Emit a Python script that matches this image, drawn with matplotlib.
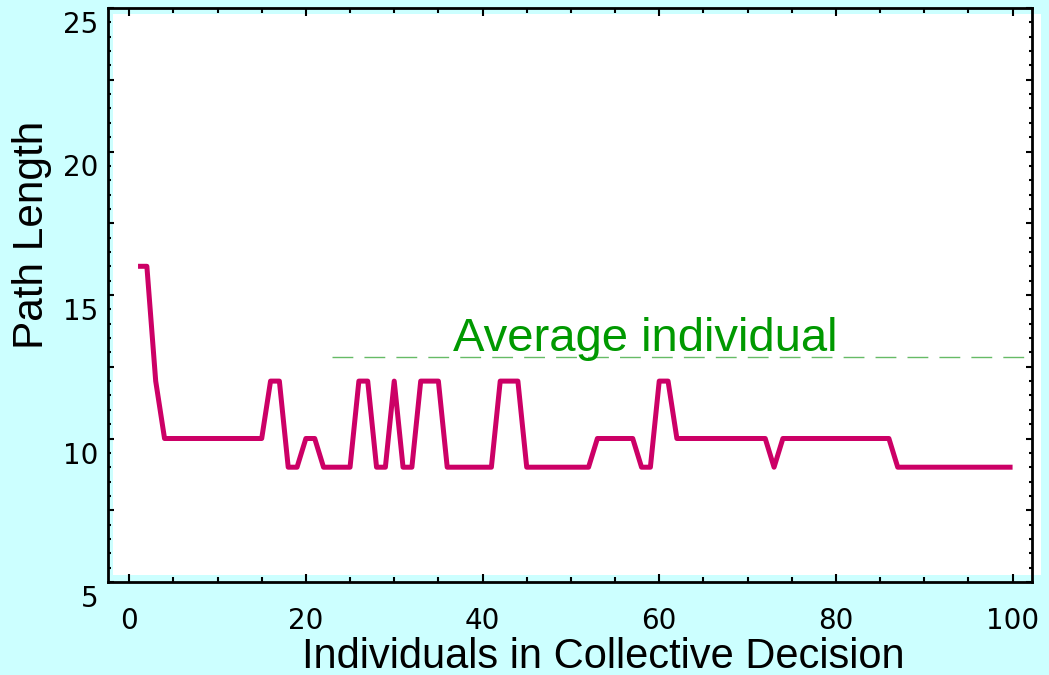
import matplotlib
matplotlib.use("Agg")
import matplotlib.pyplot as plt
import matplotlib.transforms as mtransforms
from matplotlib.patches import Rectangle
from matplotlib.ticker import MultipleLocator, FuncFormatter

# Path length of the collective decision, for 1..100 individuals
individuals = list(range(1, 101))
path_length = [
    16, 16, 12, 10, 10, 10, 10, 10, 10, 10,
    10, 10, 10, 10, 10, 12, 12, 9, 9, 10,
    10, 9, 9, 9, 9, 12, 12, 9, 9, 12,
    9, 9, 12, 12, 12, 9, 9, 9, 9, 9,
    9, 12, 12, 12, 9, 9, 9, 9, 9, 9,
    9, 9, 10, 10, 10, 10, 10, 9, 9, 12,
    12, 10, 10, 10, 10, 10, 10, 10, 10, 10,
    10, 10, 9, 10, 10, 10, 10, 10, 10, 10,
    10, 10, 10, 10, 10, 10, 9, 9, 9, 9,
    9, 9, 9, 9, 9, 9, 9, 9, 9, 9,
]
average_individual = 12.85
average_start = 23
average_label = "Average individual"

x_ticks = [0, 20, 40, 60, 80, 100]
y_ticks = [5, 10, 15, 20, 25]

label_font = "Liberation Sans"

fig = plt.figure(figsize=(10.49, 6.75), dpi=100, facecolor="#ccffff")
W, H = 1049, 675

# white plotting area, slightly offset from the frame like the original
fig.patches.append(Rectangle((113 / W, 1 - 575 / H), (1041 - 113) / W, (575 - 14) / H,
                             transform=fig.transFigure, facecolor="white",
                             edgecolor="none", zorder=0))

ax = fig.add_axes([108 / W, 1 - 582 / H, (1032 - 108) / W, (582 - 8) / H])
ax.patch.set_alpha(0)
ax.set_zorder(1)

ax.plot(individuals, path_length, color="#cc0066", linewidth=3.6,
        solid_joinstyle="round", solid_capstyle="butt", zorder=3)

ax.plot([average_start, 110], [average_individual, average_individual],
        color="#66bb66", linewidth=1.0, dashes=(15, 8), zorder=2)
ax.text(58.4, 13.05, average_label, color="#009900", fontsize=34,
        family=label_font, ha="center", va="baseline")

ax.set_xlim(-2.4, 102.2)
ax.set_ylim(5, 25)

for s in ax.spines.values():
    s.set_linewidth(2)
    s.set_color("black")

ax.xaxis.set_major_locator(MultipleLocator(20))
ax.xaxis.set_minor_locator(MultipleLocator(5))
ax.yaxis.set_major_locator(MultipleLocator(2.5))
ax.yaxis.set_minor_locator(MultipleLocator(0.5))
ax.yaxis.set_major_formatter(FuncFormatter(lambda v, p: f"{v:g}" if v in y_ticks else ""))

ax.tick_params(which="both", direction="in", top=True, right=True, width=1.5)
ax.tick_params(axis="x", which="major", length=6, pad=18, labelsize=20)
ax.tick_params(axis="x", which="minor", length=3.6)
ax.tick_params(axis="y", which="major", length=4, pad=7, labelsize=20)
ax.tick_params(axis="y", which="minor", length=2.2)

# y tick labels sit a little below their ticks
offset = mtransforms.ScaledTranslation(0, -0.14, fig.dpi_scale_trans)
for lab in ax.get_yticklabels():
    lab.set_transform(lab.get_transform() + offset)

ax.set_xlabel("Individuals in Collective Decision", fontsize=30, family=label_font)
ax.xaxis.set_label_coords(0.536, -0.095)
ax.set_ylabel("Path Length", fontsize=30.5, family=label_font)
ax.yaxis.set_label_coords(-0.061, 0.605)

fig.savefig("out.png", dpi=100, facecolor=fig.get_facecolor())
